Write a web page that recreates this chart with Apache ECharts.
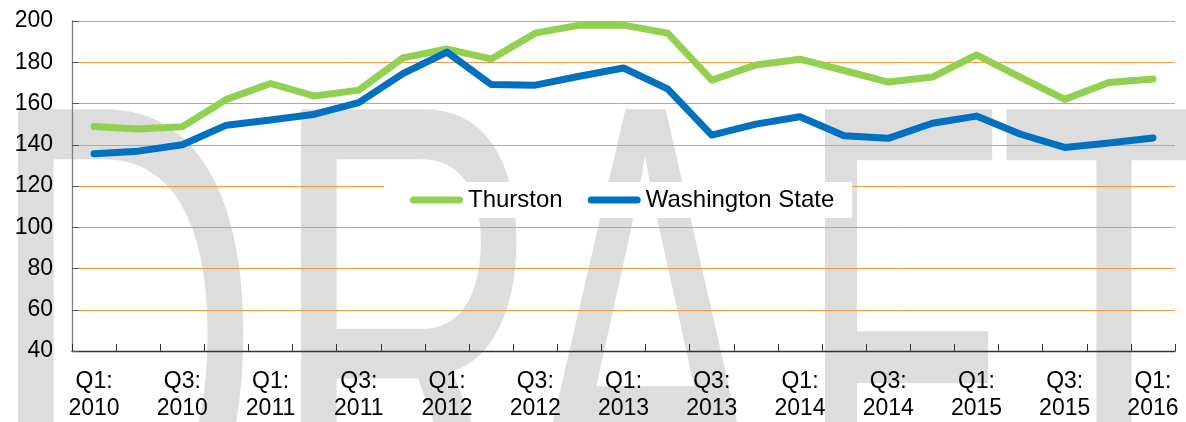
<!DOCTYPE html>
<html>
<head>
<meta charset="utf-8">
<title>Thurston vs Washington State</title>
<style>
    html, body { margin: 0; padding: 0; background: #fff; }
    #main { width: 1186px; height: 422px; }
</style>
</head>
<body>
<div id="main"></div>
<script src="https://cdn.jsdelivr.net/npm/echarts@6/dist/echarts.min.js"></script>
<script type="text/javascript">
    // quarters Q1 2010 .. Q1 2016
    var quarters = [
        'Q1:\n2010', 'Q2:\n2010', 'Q3:\n2010', 'Q4:\n2010',
        'Q1:\n2011', 'Q2:\n2011', 'Q3:\n2011', 'Q4:\n2011',
        'Q1:\n2012', 'Q2:\n2012', 'Q3:\n2012', 'Q4:\n2012',
        'Q1:\n2013', 'Q2:\n2013', 'Q3:\n2013', 'Q4:\n2013',
        'Q1:\n2014', 'Q2:\n2014', 'Q3:\n2014', 'Q4:\n2014',
        'Q1:\n2015', 'Q2:\n2015', 'Q3:\n2015', 'Q4:\n2015',
        'Q1:\n2016'
    ];
    var thurston = [148.9, 147.6, 148.7, 162.0, 169.7, 163.6, 166.5, 182.1, 186.4, 181.6,
                    194.1, 198.0, 198.0, 194.1, 171.3, 178.7, 181.5, 176.0, 170.4, 172.8,
                    183.6, 172.7, 162.0, 170.2, 171.9];
    var washington = [135.6, 136.9, 140.0, 149.5, 152.0, 154.8, 160.4, 174.5, 184.9, 169.2,
                      168.9, 173.2, 177.2, 167.1, 144.7, 150.0, 153.6, 144.4, 143.1, 150.4,
                      153.9, 145.1, 138.7, 140.9, 143.3];
    var yTicks = { min: 40, max: 200, step: 20 };

    var chart = echarts.init(document.getElementById('main'));

    // big grey "DRAFT" watermark, one letter at a time
    function wmLetter(ch, x, sx) {
        return {
            type: 'text',
            x: x,
            y: 385,
            scaleX: sx || 1,
            scaleY: 1.76,
            z: -10,
            silent: true,
            style: {
                text: ch,
                fill: '#dddddd',
                font: '380px "Liberation Sans", Arial, sans-serif',
                align: 'left',
                verticalAlign: 'middle'
            }
        };
    }

    var pill = 'path://M3.5,0 L49.5,0 A3.5,3.5 0 0 1 49.5,7 L3.5,7 A3.5,3.5 0 0 1 3.5,0 Z';

    var option = {
        backgroundColor: '#fff',
        animation: false,
        textStyle: { fontFamily: '"Liberation Sans", Arial, sans-serif' },
        graphic: [
            wmLetter('D', -13),
            wmLetter('R', 270),
            wmLetter('A', 518),
            wmLetter('F', 797, 0.9),
            wmLetter('T', 998)
        ],
        grid: { left: 72, right: 11, top: 21, bottom: 68.5 },
        legend: {
            left: 384,
            top: 182,
            padding: [6, 18, 6, 26],
            backgroundColor: '#fff',
            itemWidth: 53,
            itemHeight: 7,
            itemGap: 25,
            textStyle: { color: '#000', fontSize: 24, fontFamily: '"Liberation Sans", Arial, sans-serif' },
            data: [
                { name: 'Thurston', icon: pill },
                { name: 'Washington State', icon: pill }
            ]
        },
        xAxis: {
            type: 'category',
            data: quarters,
            boundaryGap: true,
            axisLine: { lineStyle: { color: '#333', width: 1.3 } },
            axisTick: { show: true, inside: true, length: 7, interval: 0, lineStyle: { color: '#333' } },
            axisLabel: {
                interval: 1,
                color: '#000',
                fontSize: 23,
                lineHeight: 27,
                margin: 17
            },
            splitLine: { show: false }
        },
        yAxis: {
            type: 'value',
            min: yTicks.min,
            max: yTicks.max,
            interval: yTicks.step,
            axisLine: { show: true, lineStyle: { color: '#7f7f7f', width: 1.3 } },
            axisTick: { show: true, inside: true, length: 7, lineStyle: { color: '#555' } },
            axisLabel: { color: '#000', fontSize: 23, margin: 19 },
            splitLine: { show: true, lineStyle: { color: '#f79646', width: 1 } }
        },
        series: [
            {
                name: 'Thurston',
                type: 'line',
                data: thurston,
                showSymbol: false,
                symbol: 'none',
                color: '#92d050',
                lineStyle: { width: 7, color: '#92d050', cap: 'round', join: 'round' }
            },
            {
                name: 'Washington State',
                type: 'line',
                data: washington,
                showSymbol: false,
                symbol: 'none',
                color: '#0070c0',
                lineStyle: { width: 7, color: '#0070c0', cap: 'round', join: 'round' }
            }
        ]
    };
    chart.setOption(option);
</script>
</body>
</html>
